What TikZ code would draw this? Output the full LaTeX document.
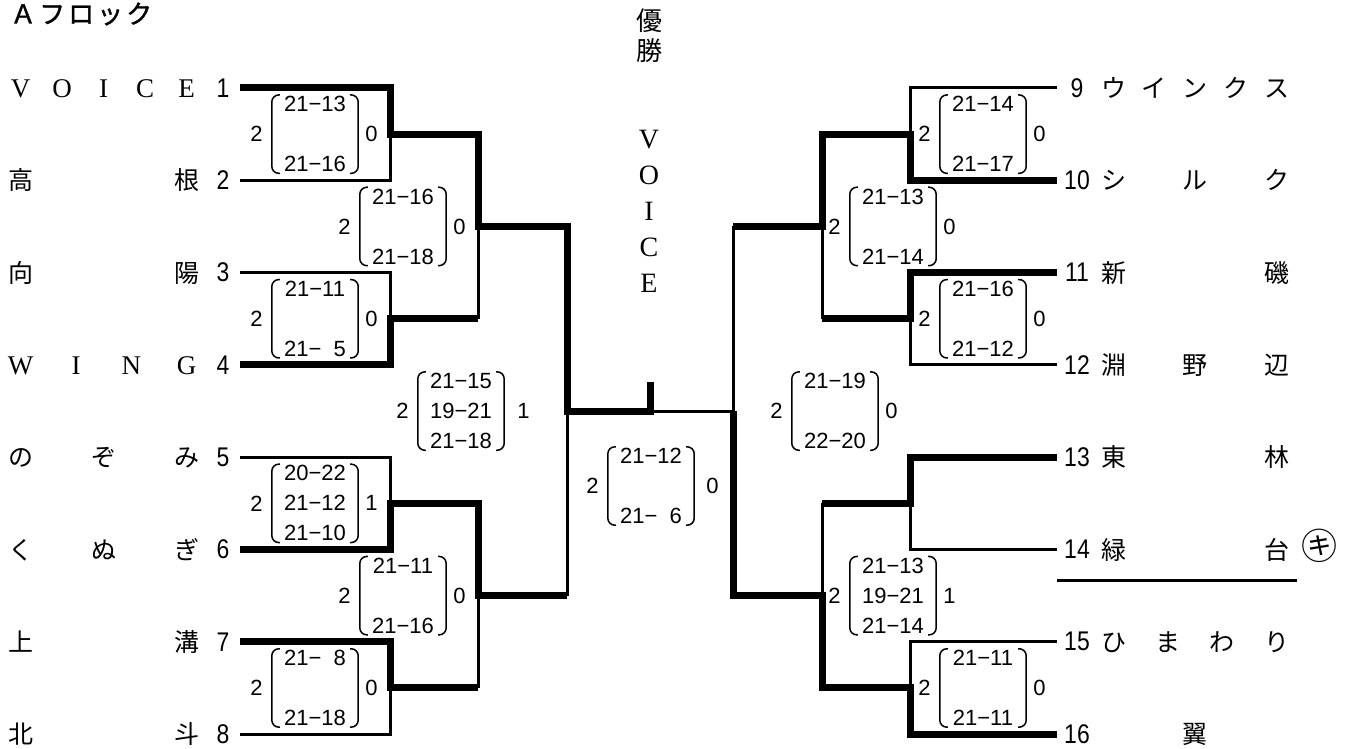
\documentclass[tikz,border=0pt]{standalone}
\usepackage{fontspec}
\setmainfont{Liberation Serif}
\newfontfamily\jpfont{Noto Sans CJK JP}
\newfontfamily\titlefont[FakeBold=1.2]{Noto Sans CJK JP}
\newfontfamily\scorefont{Liberation Sans}
\newfontfamily\seedfont[FakeStretch=0.85]{Liberation Sans}
\usetikzlibrary{positioning}
\tikzstyle{winner}=[line width=7pt]
\tikzstyle{loser}=[line width=3pt]
\tikzstyle{paren}=[line width=1.5pt,rounded corners=7pt]
\tikzstyle{score}=[inner sep=0pt,minimum width=86pt,minimum height=78pt,align=center,font=\scorefont\fontsize{22}{30}\selectfont]
\tikzstyle{games}=[inner sep=0pt,font=\scorefont\fontsize{22}{25}\selectfont]
\tikzstyle{seed}=[inner sep=0pt,font=\seedfont\fontsize{27}{30}\selectfont]
\tikzstyle{team}=[inner sep=0pt,anchor=west,text height=19pt,text depth=0pt,font=\jpfont\fontsize{25}{30}\selectfont]
\tikzstyle{champ}=[inner sep=0pt,font=\rmfamily\fontsize{28}{30}\selectfont]
\newcommand{\zw}[1]{\makebox[1em]{\rmfamily\fontsize{27}{30}\selectfont #1}}
\newcommand{\match}[6][7pt]{
  \node[score] (#2) at (#3) {#5};
  \draw[paren] ([xshift=8pt]#2.north west) -- (#2.north west) -- (#2.south west) -- ([xshift=8pt]#2.south west);
  \draw[paren] ([xshift=-8pt]#2.north east) -- (#2.north east) -- (#2.south east) -- ([xshift=-8pt]#2.south east);
  \node[games,left=9pt of #2] (#2w) {#4};
  \node[games,right=#1 of #2] (#2l) {#6};
}

\begin{document}
\begin{tikzpicture}[x=1pt,y=-1pt]
  \path[use as bounding box,fill=white] (0,0) rectangle (1350,749);

  \foreach \i in {1,...,8}{
    \pgfmathsetmacro{\y}{88+(\i-1)*92.3}
    \pgfmathtruncatemacro{\k}{\i+8}
    \coordinate (L\i) at (240,\y);
    \coordinate (R\k) at (1057,\y);
    \node[seed] (s\i) at (223,\y) {\i};
    \node[seed] (s\k) at (1077,\y) {\k};
  }
  \foreach \i in {1,...,4}{
    \pgfmathsetmacro{\y}{134.15+(\i-1)*184.6}
    \coordinate (a\i) at (390,\y);
    \coordinate (d\i) at (910,\y);
  }
  \coordinate (b1) at (478,226.45);
  \coordinate (b2) at (478,595.65);
  \coordinate (e1) at (822,226.45);
  \coordinate (e2) at (822,595.65);
  \coordinate (c1) at (567,411.05);
  \coordinate (f1) at (733,411.05);
  \coordinate (fin) at (650,411.05);
  \coordinate (cup) at (650,382);

  \draw[winner] (L1) -| (a1) -| (b1) -| (c1) -- (fin) -- (cup);
  \draw[loser] (L2) -| (a1);
  \draw[loser] (L3) -| (a2);
  \draw[winner] (L4) -| (a2) -- (a2 -| b1);
  \draw[loser] (a2 -| b1) -- (b1);
  \draw[loser] (L5) -| (a3);
  \draw[winner] (L6) -| (a3) -| (b2) -- (b2 -| c1);
  \draw[loser] (b2 -| c1) -- (c1);
  \draw[winner] (L7) -| (a4) -- (a4 -| b2);
  \draw[loser] (a4 -| b2) -- (b2);
  \draw[loser] (L8) -| (a4);
  \draw[loser] (fin) -- (f1);

  \draw[loser] (R9) -| (d1);
  \draw[winner] (R10) -| (d1) -| (e1) -- (e1 -| f1);
  \draw[loser] (e1 -| f1) -- (f1);
  \draw[winner] (R11) -| (d2) -- (d2 -| e1);
  \draw[loser] (d2 -| e1) -- (e1);
  \draw[loser] (R12) -| (d2);
  \draw[winner] (R13) -| (d3) -- (d3 -| e2);
  \draw[loser] (d3 -| e2) -- (e2);
  \draw[loser] (R14) -| (d3);
  \draw[loser] (R15) -| (d4);
  \draw[winner] (R16) -| (d4) -| (e2) -| (f1);

  \coordinate (sep1) at (1057,580.7);
  \coordinate (sep2) at (1297,580.7);
  \draw[line width=3.5pt] (sep1) -- (sep2);

  \match{m1}{315,134.15}{2}{21−13\\~\\21−16}{0}
  \match{m2}{315,318.75}{2}{21−11\\~\\21−\phantom{0}5}{0}
  \match{m3}{315,503.35}{2}{20−22\\21−12\\21−10}{1}
  \match{m4}{315,687.95}{2}{21−\phantom{0}8\\~\\21−18}{0}
  \match{q1}{403,226.45}{2}{21−16\\~\\21−18}{0}
  \match{q2}{403,595.65}{2}{21−11\\~\\21−16}{0}
  \match[13pt]{h1}{461,411.05}{2}{21−15\\19−21\\21−18}{1}
  \match[12pt]{mf}{651,486}{2}{21−12\\~\\21−\phantom{0}6}{0}
  \match{h2}{835,411.05}{2}{21−19\\~\\22−20}{0}
  \match{q3}{893,226.45}{2}{21−13\\~\\21−14}{0}
  \match{q4}{893,595.65}{2}{21−13\\19−21\\21−14}{1}
  \match{m5}{983,134.15}{2}{21−14\\~\\21−17}{0}
  \match{m6}{983,318.75}{2}{21−16\\~\\21−12}{0}
  \match{m8}{983,687.95}{2}{21−11\\~\\21−11}{0}

  \node[team] (t1) at (8,0 |- s1) {\makebox[191pt][s]{\zw{V}\hfill\zw{O}\hfill\zw{I}\hfill\zw{C}\hfill\zw{E}}};
  \node[team] (t2) at (8,0 |- s2) {\makebox[191pt][s]{高\hfill 根}};
  \node[team] (t3) at (8,0 |- s3) {\makebox[191pt][s]{向\hfill 陽}};
  \node[team] (t4) at (8,0 |- s4) {\makebox[191pt][s]{\zw{W}\hfill\zw{I}\hfill\zw{N}\hfill\zw{G}}};
  \node[team] (t5) at (8,0 |- s5) {\makebox[191pt][s]{の\hfill ぞ\hfill み}};
  \node[team] (t6) at (8,0 |- s6) {\makebox[191pt][s]{く\hfill ぬ\hfill ぎ}};
  \node[team] (t7) at (8,0 |- s7) {\makebox[191pt][s]{上\hfill 溝}};
  \node[team] (t8) at (8,0 |- s8) {\makebox[191pt][s]{北\hfill 斗}};
  \node[team] (t9) at (1101,0 |- s9) {\makebox[188pt][s]{ウ\hfill イ\hfill ン\hfill ク\hfill ス}};
  \node[team] (t10) at (1101,0 |- s10) {\makebox[188pt][s]{シ\hfill ル\hfill ク}};
  \node[team] (t11) at (1101,0 |- s11) {\makebox[188pt][s]{新\hfill 磯}};
  \node[team] (t12) at (1101,0 |- s12) {\makebox[188pt][s]{淵\hfill 野\hfill 辺}};
  \node[team] (t13) at (1101,0 |- s13) {\makebox[188pt][s]{東\hfill 林}};
  \node[team] (t14) at (1101,0 |- s14) {\makebox[188pt][s]{緑\hfill 台}};
  \node[team] (t15) at (1101,0 |- s15) {\makebox[188pt][s]{ひ\hfill ま\hfill わ\hfill り}};
  \node[team] (t16) at (1101,0 |- s16) {\makebox[188pt][s]{\hfill 翼\hfill}};
  \node[team,anchor=center,font=\jpfont\fontsize{36}{36}\selectfont] (ki) at (1319,0 |- s14) {㋖};

  \node[team,anchor=west,text height=19pt,font=\titlefont\fontsize{26}{26}\selectfont] (title) at (10,14) {\makebox[142pt][s]{Ａ\hfill フ\hfill ロ\hfill ッ\hfill ク}};
  \node[team,anchor=center,font=\jpfont\fontsize{26}{30}\selectfont] (yu) at (649,21) {優};
  \node[team,anchor=center,font=\jpfont\fontsize{26}{30}\selectfont] (sho) at (649,51) {勝};
  \foreach \c [count=\k] in {V,O,I,C,E}
    \node[champ] (v\k) at (649,{104+35.8*\k}) {\c};
\end{tikzpicture}
\end{document}
